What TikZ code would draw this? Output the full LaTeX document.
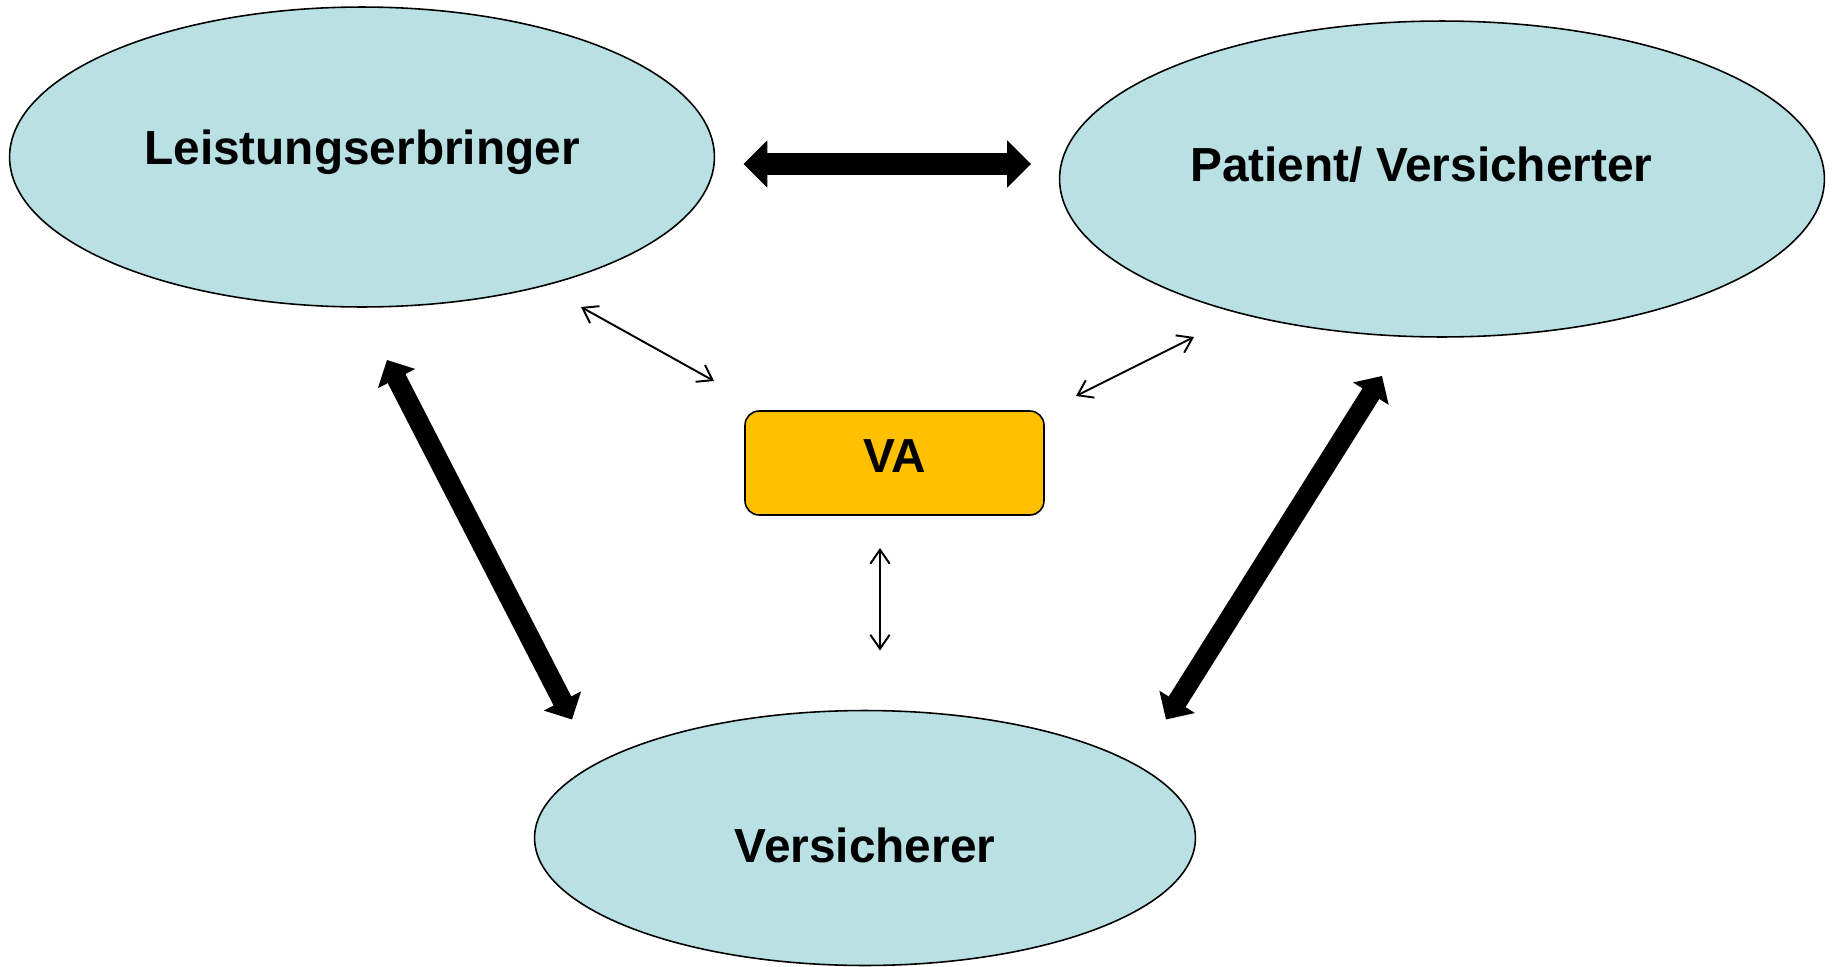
\documentclass[tikz,border=0pt]{standalone}
\usepackage{fontspec}
\setmainfont{Liberation Sans}
\usetikzlibrary{shapes.geometric,arrows.meta}

\definecolor{partyfill}{HTML}{B9E0E3}
\definecolor{vafill}{HTML}{FFC000}

\tikzset{
  party/.style={ellipse, draw, line width=0.9pt, fill=partyfill, inner sep=0pt, outer sep=0pt},
  partytext/.style={font=\bfseries\fontsize{27.2}{31}\selectfont},
  vabox/.style={rectangle, rounded corners=8pt, draw, line width=0.9pt, fill=vafill, inner sep=0pt, outer sep=0pt,
    minimum width=5.98cm, minimum height=2.08cm},
  bigarrow/.style={line width=13pt, {Triangle[width=26pt,length=13.6pt]}-{Triangle[width=26pt,length=13.6pt]}},
  diagarrow/.style={line width=11.3pt, {Triangle[width=23.2pt,length=11.9pt]}-{Triangle[width=23.2pt,length=11.9pt]}},
  thinarrow/.style={line width=1.1pt, {Straight Barb[length=8pt,width=11pt]}-{Straight Barb[length=8pt,width=11pt]}}
}

\begin{document}
\begin{tikzpicture}[x=0.02cm, y=-0.02cm]
      \useasboundingbox (0,0) rectangle (1837,967);
      % the three parties
      \node[party, minimum width=14.1cm, minimum height=6cm,
        label={[partytext, yshift=2.5pt]center:Leistungserbringer}] (le) at (362,157) {};
      \node[party, minimum width=15.3cm, minimum height=6.32cm,
        label={[partytext, xshift=-11.8pt, yshift=7.9pt]center:Patient/ Versicherter}] (pv) at (1442,179) {};
      \node[party, minimum width=13.22cm, minimum height=5.1cm,
        label={[partytext, yshift=-4.5pt]center:Versicherer}] (vs) at (865,838) {};
      \node[vabox, label={[partytext, yshift=4pt]center:VA}] (va) at (894.5,463) {};
      % thick arrows
      \draw[bigarrow] ([shift={(29,7)}]le.east) -- ([shift={(-28.5,-15)}]pv.west);
      \draw[diagarrow] ([shift={(25,53)}]le.south) -- ([shift={(-293,9)}]vs.north);
      \draw[diagarrow] ([shift={(-60,39)}]pv.south) -- ([shift={(301,9)}]vs.north);
      % thin arrows to VA
      \draw[thinarrow] ([shift={(219,0)}]le.south) -- ([shift={(-31,-30)}]va.north west);
      \draw[thinarrow] ([shift={(-248,0)}]pv.south) -- ([shift={(32,-15)}]va.north east);
      \draw[thinarrow] ([shift={(-14.5,33)}]va.south) -- ([shift={(15,-60)}]vs.north);
\end{tikzpicture}
\end{document}
